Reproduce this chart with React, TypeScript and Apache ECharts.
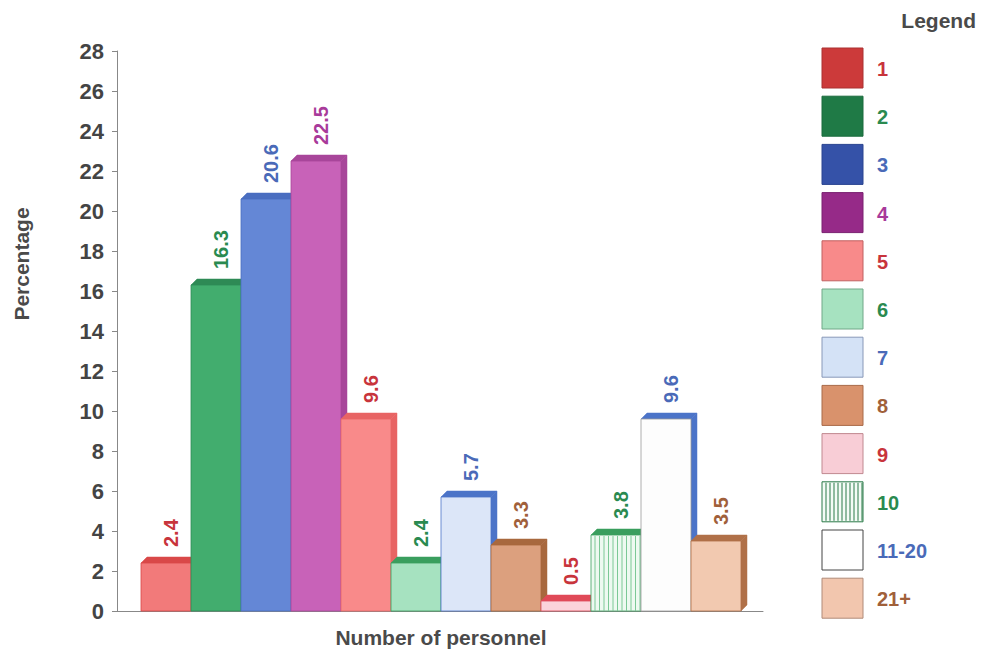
import React, { useEffect, useRef } from "react";
import * as echarts from "echarts";

const categories = ["1", "2", "3", "4", "5", "6", "7", "8", "9", "10", "11-20", "21+"];
const values = [2.4, 16.3, 20.6, 22.5, 9.6, 2.4, 5.7, 3.3, 0.5, 3.8, 9.6, 3.5];
const frontColors = ["#f27a7a", "#42ad6e", "#6487d6", "#c862b8", "#f98a8a", "#a6e2c0", "#dce6f8", "#dca07e", "#fbd3da", "#eef9f1", "#fdfdfd", "#f2c9b0"];
const edgeColors = ["#d94848", "#2e8a55", "#4a6ec0", "#a8469a", "#e86464", "#3a9e5e", "#4c74c8", "#a8683e", "#e04a58", "#3a9e5e", "#4c74c8", "#b07048"];
const labelColors = ["#c8343c", "#2a8a50", "#4a6ab8", "#a83a9a", "#c8343c", "#2a8a50", "#4a6ab8", "#a0603a", "#c8343c", "#2a8a50", "#4a6ab8", "#a0603a"];
const legendColors = ["#cc3a3a", "#1f7a46", "#3552a8", "#962a88", "#f88a8a", "#a6e2c0", "#d4e2f6", "#d9926c", "#f8cdd6", "#f4fbf6", "#ffffff", "#f2c6ae"];
const legendBorders = ["#aa3030", "#1a6a3c", "#2a4490", "#7a2070", "#c06060", "#70a888", "#8898b8", "#a86a48", "#c08890", "#2a7a48", "#444444", "#b08a78"];
const yTicks = [0, 2, 4, 6, 8, 10, 12, 14, 16, 18, 20, 22, 24, 26, 28];

const FONT = "Liberation Sans, Arial, sans-serif";

export default function App() {
  const ref = useRef<HTMLDivElement>(null);
  useEffect(() => {
    if (!ref.current) return;
    const chart = echarts.init(ref.current, null, { renderer: "svg" });
    const depth = 6;
    const data = values.map((v, i) => [i, v]);

    const legendGraphics: any[] = [];
    legendGraphics.push({
      type: "text",
      x: 976,
      y: 20,
      style: { text: "Legend", font: "bold 21px " + FONT, fill: "#4a4a4a", align: "right", verticalAlign: "middle" },
    });
    categories.forEach((c, i) => {
      const y = 48 + i * 48.2;
      const children: any[] = [
        {
          type: "rect",
          shape: { x: 0, y: 0, width: 41, height: 40 },
          style: { fill: legendColors[i], stroke: legendBorders[i], lineWidth: 1 },
        },
      ];
      if (i === 9) {
        for (let k = 4; k < 41; k += 4) {
          children.push({
            type: "line",
            shape: { x1: k, y1: 1, x2: k, y2: 39 },
            style: { stroke: "#2a7a48", lineWidth: 1 },
          });
        }
      }
      children.push({
        type: "text",
        x: 55,
        y: 21,
        style: {
          text: c,
          font: "bold 20px " + FONT,
          fill: labelColors[i],
          verticalAlign: "middle",
          align: "left",
        },
      });
      legendGraphics.push({ type: "group", x: 822, y, children });
    });

    legendGraphics.push({
      type: "text",
      x: 21,
      y: 264,
      rotation: Math.PI / 2,
      style: {
        text: "Percentage",
        font: "bold 21px " + FONT,
        fill: "#4a4a4a",
        align: "center",
        verticalAlign: "middle",
      },
    });
    legendGraphics.push({
      type: "text",
      x: 441,
      y: 637,
      style: {
        text: "Number of personnel",
        font: "bold 21px " + FONT,
        fill: "#4a4a4a",
        align: "center",
        verticalAlign: "middle",
      },
    });

    chart.setOption({
      animation: false,
      backgroundColor: "#ffffff",
      grid: { left: 117, width: 646, top: 51, height: 560, containLabel: false },
      xAxis: {
        type: "value",
        min: -0.98,
        max: 11.94,
        axisLine: { show: true, onZero: false, lineStyle: { color: "#888", width: 1 } },
        axisTick: { show: false },
        axisLabel: { show: false },
        splitLine: { show: false },
      },
      yAxis: {
        type: "value",
        min: 0,
        max: 28,
        interval: 2,
        axisLine: { show: true, onZero: false, lineStyle: { color: "#888", width: 1 } },
        axisTick: { show: true, length: 5, lineStyle: { color: "#888" } },
        axisLabel: {
          fontFamily: FONT,
          fontSize: 22,
          fontWeight: "bold",
          color: "#444",
          margin: 13,
          formatter: (v: number) => (yTicks.includes(v) ? String(v) : ""),
        },
        splitLine: { show: false },
      },
      graphic: legendGraphics,
      series: [
        {
          type: "custom",
          data,
          clip: false,
          renderItem: (params: any, api: any) => {
            const i = api.value(0);
            const v = api.value(1);
            const p0 = api.coord([i - 0.5, 0]);
            const p1 = api.coord([i + 0.5, v]);
            const x0 = p0[0];
            const yb = p0[1];
            const x1 = p1[0];
            const yt = p1[1];
            const w = x1 - x0;
            const children: any[] = [
              {
                type: "polygon",
                shape: { points: [[x1, yt], [x1 + depth, yt - depth], [x1 + depth, yb - depth], [x1, yb]] },
                style: { fill: edgeColors[i], stroke: edgeColors[i], lineWidth: 0.5 },
              },
              {
                type: "polygon",
                shape: { points: [[x0, yt], [x0 + depth, yt - depth], [x1 + depth, yt - depth], [x1, yt]] },
                style: { fill: edgeColors[i], stroke: edgeColors[i], lineWidth: 0.5 },
              },
              {
                type: "rect",
                shape: { x: x0, y: yt, width: w, height: yb - yt },
                style: { fill: frontColors[i], stroke: i === 10 ? "#9a9a9a" : edgeColors[i], lineWidth: 0.8 },
              },
            ];
            if (i === 9) {
              for (let k = 4; k < w; k += 4.5) {
                children.push({
                  type: "line",
                  shape: { x1: x0 + k, y1: yt + 1, x2: x0 + k, y2: yb },
                  style: { stroke: "#7cc896", lineWidth: 1 },
                });
              }
            }
            children.push({
              type: "text",
              x: (x0 + x1) / 2 + 5,
              y: yt - 16,
              rotation: Math.PI / 2,
              style: {
                text: String(v),
                font: "bold 20px " + FONT,
                fill: labelColors[i],
                align: "left",
                verticalAlign: "middle",
              },
            });
            return { type: "group", children };
          },
        },
      ],
    });
    return () => chart.dispose();
  }, []);
  return <div ref={ref} style={{ position: "fixed", left: 0, top: 0, width: 981, height: 657 }} />;
}
